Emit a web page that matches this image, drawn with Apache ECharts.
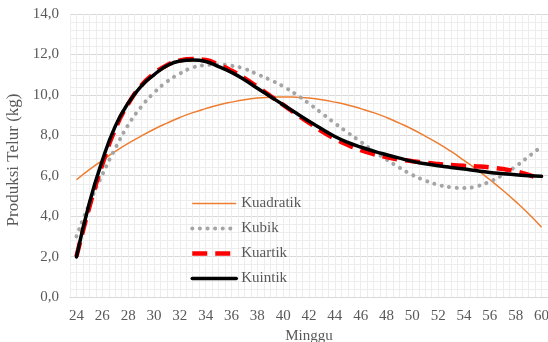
<!DOCTYPE html>
<html>
<head>
<meta charset="utf-8">
<script src="https://cdn.jsdelivr.net/npm/echarts@6/dist/echarts.min.js"></script>
<style>html,body{margin:0;padding:0;background:#fff}#c{width:548px;height:342px}</style>
</head>
<body>
<div id="c"></div>
<script>
const weeks = [24,25,26,27,28,29,30,31,32,33,34,35,36,37,38,39,40,41,42,43,44,45,46,47,48,49,50,51,52,53,54,55,56,57,58,59,60];
const kuadratik = [5.80,6.30,6.76,7.20,7.60,7.96,8.30,8.60,8.88,9.12,9.32,9.50,9.64,9.76,9.84,9.88,9.90,9.88,9.84,9.76,9.64,9.50,9.32,9.12,8.88,8.60,8.30,7.96,7.60,7.20,6.76,6.30,5.80,5.28,4.72,4.12,3.45];
const kubik = [3.00,4.62,6.05,7.35,8.50,9.40,10.10,10.65,11.05,11.35,11.47,11.50,11.44,11.29,11.02,10.74,10.42,10.02,9.57,9.09,8.60,8.13,7.68,7.22,6.80,6.40,6.04,5.76,5.55,5.43,5.39,5.48,5.71,6.04,6.46,6.95,7.45];
const kuartik = [2.00,4.45,6.55,8.30,9.55,10.45,11.05,11.47,11.70,11.77,11.72,11.50,11.20,10.83,10.40,9.95,9.50,9.05,8.62,8.20,7.83,7.52,7.27,7.07,6.92,6.80,6.72,6.64,6.58,6.53,6.49,6.46,6.41,6.33,6.22,6.04,5.80];
const kuintik = [1.98,4.65,6.75,8.44,9.59,10.42,10.99,11.44,11.67,11.72,11.65,11.40,11.11,10.75,10.33,9.92,9.51,9.10,8.69,8.31,7.94,7.65,7.42,7.22,7.04,6.87,6.71,6.59,6.49,6.41,6.33,6.25,6.16,6.10,6.05,6.00,5.97];
const yTickLabels = ['0,0','2,0','4,0','6,0','8,0','10,0','12,0','14,0'];
const seriesNames = ['Kuadratik','Kubik','Kuartik','Kuintik'];

const font = '"Liberation Serif", "Times New Roman", serif';
const txt = '#595959';
const styles = [
  {color:'#ED7D31', width:1.5},
  {color:'#A5A5A5', width:4, type:[0.1,7.5], cap:'round'},
  {color:'#FF0000', width:4.5, type:[15,8]},
  {color:'#000000', width:3.5, cap:'round'}
];
const chart = echarts.init(document.getElementById('c'), null, {renderer:'canvas'});
chart.setOption({
  animation:false,
  backgroundColor:'#fff',
  grid:{left:70, right:0, top:14, bottom:45, containLabel:false, outerBoundsMode:'none'},
  legend:{
    orient:'vertical', left:190, top:196, padding:0,
    itemWidth:44, itemHeight:14, itemGap:10,
    itemStyle:{opacity:0},
    textStyle:{fontFamily:font, fontSize:15, color:txt},
    data:seriesNames.map(function(n,i){return {name:n, lineStyle:Object.assign({}, styles[i])};})
  },
  xAxis:[{
    type:'category', data:weeks, boundaryGap:true,
    axisLine:{show:true, lineStyle:{color:'#D9D9D9', width:1}},
    axisTick:{show:false},
    axisLabel:{interval:1, margin:12, fontFamily:font, fontSize:15, color:txt},
    splitLine:{show:false},
    name:'Minggu', nameLocation:'middle', nameGap:26,
    nameTextStyle:{fontFamily:font, fontSize:15, color:txt}
  },{
    type:'value', min:0, max:74, interval:1, position:'top',
    axisLine:{show:false}, axisTick:{show:false}, axisLabel:{show:false},
    splitLine:{show:true, lineStyle:{color:'#EDEDED', width:1}}
  }],
  yAxis:{
    type:'value', min:0, max:14, interval:2,
    axisLine:{show:false}, axisTick:{show:false},
    axisLabel:{margin:11, fontFamily:font, fontSize:15, color:txt,
      formatter:function(v){return yTickLabels[Math.round(v/2)];}},
    splitLine:{show:true, lineStyle:{color:'#D9D9D9', width:1}},
    minorTick:{show:false, splitNumber:5},
    minorSplitLine:{show:true, lineStyle:{color:'#EDEDED', width:1}},
    name:'Produksi Telur (kg)', nameLocation:'middle', nameGap:39,
    nameTextStyle:{fontFamily:font, fontSize:17, color:txt, padding:[0,9,0,0]}
  },
  series:seriesNames.map(function(n,i){
    const data = [kuadratik, kubik, kuartik, kuintik][i];
    return {name:n, type:'line', data:data, xAxisIndex:0, smooth:true, showSymbol:false, symbol:'none',
      lineStyle:Object.assign({}, styles[i]), itemStyle:{color:styles[i].color}};
  })
});
</script>
</body>
</html>
